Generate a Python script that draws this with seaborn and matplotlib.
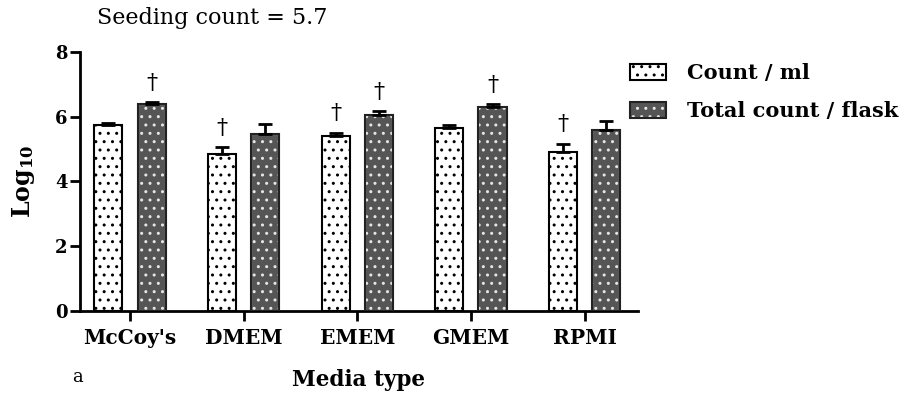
import pandas as pd
import seaborn as sns
import matplotlib.pyplot as plt
from matplotlib.patches import Rectangle

# Data (log10 counts, upper error bar tops)
media = ["McCoy's", 'DMEM', 'EMEM', 'GMEM', 'RPMI']
count_ml = [5.74, 4.85, 5.41, 5.66, 4.92]
count_ml_err = [0.07, 0.22, 0.10, 0.08, 0.25]
total_flask = [6.39, 5.48, 6.06, 6.31, 5.59]
total_flask_err = [0.06, 0.28, 0.10, 0.08, 0.28]
sig_ml = [False, True, True, False, True]
sig_flask = [True, False, True, True, False]
series = ['Count / ml', 'Total count / flask']

df = pd.DataFrame({
    'media': media * 2,
    'series': [series[0]] * 5 + [series[1]] * 5,
    'value': count_ml + total_flask,
})

sns.set_style('ticks')
plt.rcParams['font.family'] = ['DejaVu Serif']
plt.rcParams['mathtext.fontset'] = 'dejavuserif'
plt.rcParams['hatch.linewidth'] = 1.0
plt.rcParams['text.color'] = 'black'
plt.rcParams['axes.labelcolor'] = 'black'
plt.rcParams['xtick.color'] = 'black'
plt.rcParams['ytick.color'] = 'black'
plt.rcParams['axes.edgecolor'] = 'black'

dark = '#555555'
fig = plt.figure(figsize=(9.07, 3.96), dpi=100)
ax = fig.add_axes([0.0882, 0.2146, 0.6152, 0.6544])

sns.barplot(data=df, x='media', y='value', hue='series', order=media,
            hue_order=series, palette=['white', dark], width=0.76,
            gap=0.35, errorbar=None, edgecolor='black', linewidth=1.5,
            legend=False, ax=ax)

errs = [count_ml_err, total_flask_err]
sigs = [sig_ml, sig_flask]
bar_groups = list(ax.containers)
for k, cont in enumerate(bar_groups):
    for i, bar in enumerate(cont.patches):
        x = bar.get_x() + bar.get_width() / 2
        h = bar.get_height()
        bar.set_hatch('..')
        if k == 1:
            # white dots on dark bars, dark outline drawn on top
            bar.set_edgecolor('#e6e6e6')
            ax.add_patch(Rectangle((bar.get_x(), 0), bar.get_width(), h,
                                   fill=False, edgecolor='#222222', lw=1.5, zorder=3))
        ax.errorbar(x, h, yerr=[[0], [errs[k][i]]], fmt='none', ecolor='black',
                    elinewidth=2, capsize=5, capthick=2, zorder=4)
        if sigs[k][i]:
            ax.text(x, h + errs[k][i] + 0.25, '\u2020', ha='center', va='bottom',
                    fontsize=16)

ax.set_ylim(0, 8)
ax.set_xlim(-0.44, 4.47)
ax.set_yticks([0, 2, 4, 6, 8])
sns.despine(ax=ax)
for s in ['left', 'bottom']:
    ax.spines[s].set_linewidth(2)
ax.tick_params(axis='both', width=2, length=7)
ax.tick_params(axis='x', labelsize=14.5, pad=5)
ax.tick_params(axis='y', labelsize=13, pad=2)
for lab in ax.get_xticklabels() + ax.get_yticklabels():
    lab.set_fontweight('bold')
ax.set_xlabel('Media type', fontsize=15.5, fontweight='bold', labelpad=15)
ax.set_ylabel(r'Log$_{\mathbf{10}}$', fontsize=17, fontweight='bold', labelpad=13)

fig.text(0.107, 0.955, 'Seeding count = 5.7', fontsize=16, va='center')
fig.text(0.080, 0.025, 'a', fontsize=13, va='bottom')

# legend: hatched patch with outline patch on top
h_ml = Rectangle((0, 0), 1, 1, facecolor='white', edgecolor='black', hatch='..', lw=1.5)
h_fl_fill = Rectangle((0, 0), 1, 1, facecolor=dark, edgecolor='#e6e6e6', hatch='..', lw=0)
h_fl_edge = Rectangle((0, 0), 1, 1, fill=False, edgecolor='#222222', lw=1.5)
leg = fig.legend([h_ml, (h_fl_fill, h_fl_edge)], series, loc='upper left',
                 bbox_to_anchor=(0.695, 0.84), frameon=False,
                 prop={'weight': 'bold', 'size': 15}, borderpad=0, borderaxespad=0,
                 handlelength=1.7, handleheight=0.85, labelspacing=0.85,
                 handletextpad=1.0)

fig.savefig('out.png', dpi=100)
